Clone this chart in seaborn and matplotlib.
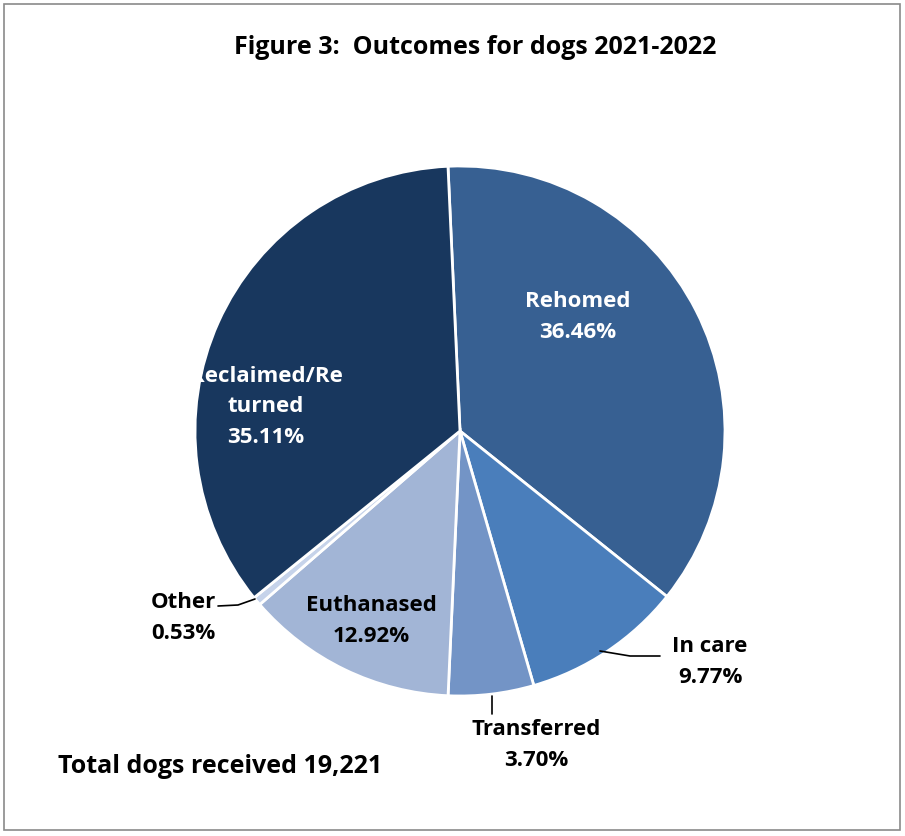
import matplotlib
matplotlib.use("Agg")
import matplotlib.pyplot as plt
import seaborn as sns
from matplotlib.patches import Rectangle

sns.set_theme(style="white")
plt.rcParams['font.family'] = ['Open Sans', 'DejaVu Sans']

# ---- data ----
categories = ["Rehomed", "In care", "Transferred", "Euthanased", "Other", "Reclaimed/Re\nturned"]
shares = [36.46, 9.77, 5.21, 12.92, 0.53, 35.11]          # drawn slice sizes
pct_labels = ["36.46%", "9.77%", "3.70%", "12.92%", "0.53%", "35.11%"]  # printed labels
colors = ["#376092", "#4A7EBB", "#7394C6", "#A2B5D6", "#C6D3EA", "#18375E"]
title = "Figure 3:  Outcomes for dogs 2021-2022"
footnote = "Total dogs received 19,221"

W, H = 905, 837
fig = plt.figure(figsize=(W / 100, H / 100), dpi=100)
fig.patch.set_facecolor("white")
fig.patches.append(Rectangle((4 / W, 6 / H), 896 / W, 826 / H, transform=fig.transFigure,
                             fill=False, edgecolor="#8a8a8a", linewidth=1.2))

cx, cy, R = 460, 432, 265
ax = fig.add_axes([(cx - R) / W, (H - cy - R) / H, 2 * R / W, 2 * R / H])
ax.pie(shares, colors=colors, startangle=92.6, counterclock=False,
       wedgeprops=dict(edgecolor="white", linewidth=2))
ax.set_xlim(-1, 1)
ax.set_ylim(-1, 1)
ax.set_aspect("equal")
ax.axis("off")


def d(px, py):
    return ((px - cx) / R, (cy - py) / R)


# label layout (pixel positions) : (x, y, colour)
layout = [(578, 317, "white"), (710, 662, "black"), (536, 745, "black"),
          (371, 621, "black"), (183, 618, "black"), (266, 407, "white")]
for cat, pct, (px, py, col) in zip(categories, pct_labels, layout):
    x, y = d(px, py)
    ax.text(x, y, f"{cat}\n{pct}", ha="center", va="center", color=col,
            fontsize=16, fontweight="bold", linespacing=1.6, clip_on=False)

# leader lines
leaders = [[(600, 652), (630, 657), (660, 657)],
           [(492, 697), (492, 715)],
           [(255, 600), (238, 606), (218, 607)]]
for pts in leaders:
    xs, ys = zip(*[d(*p) for p in pts])
    ax.plot(xs, ys, color="black", linewidth=1.2, clip_on=False)

fig.text(475 / W, 1 - 47 / H, title, ha="center", va="center", fontsize=18,
         fontweight="bold", color="black")
fig.text(58 / W, 1 - 767 / H, footnote, ha="left", va="center", fontsize=18,
         fontweight="bold", color="black")

fig.savefig("out.png", dpi=100, facecolor="white")
